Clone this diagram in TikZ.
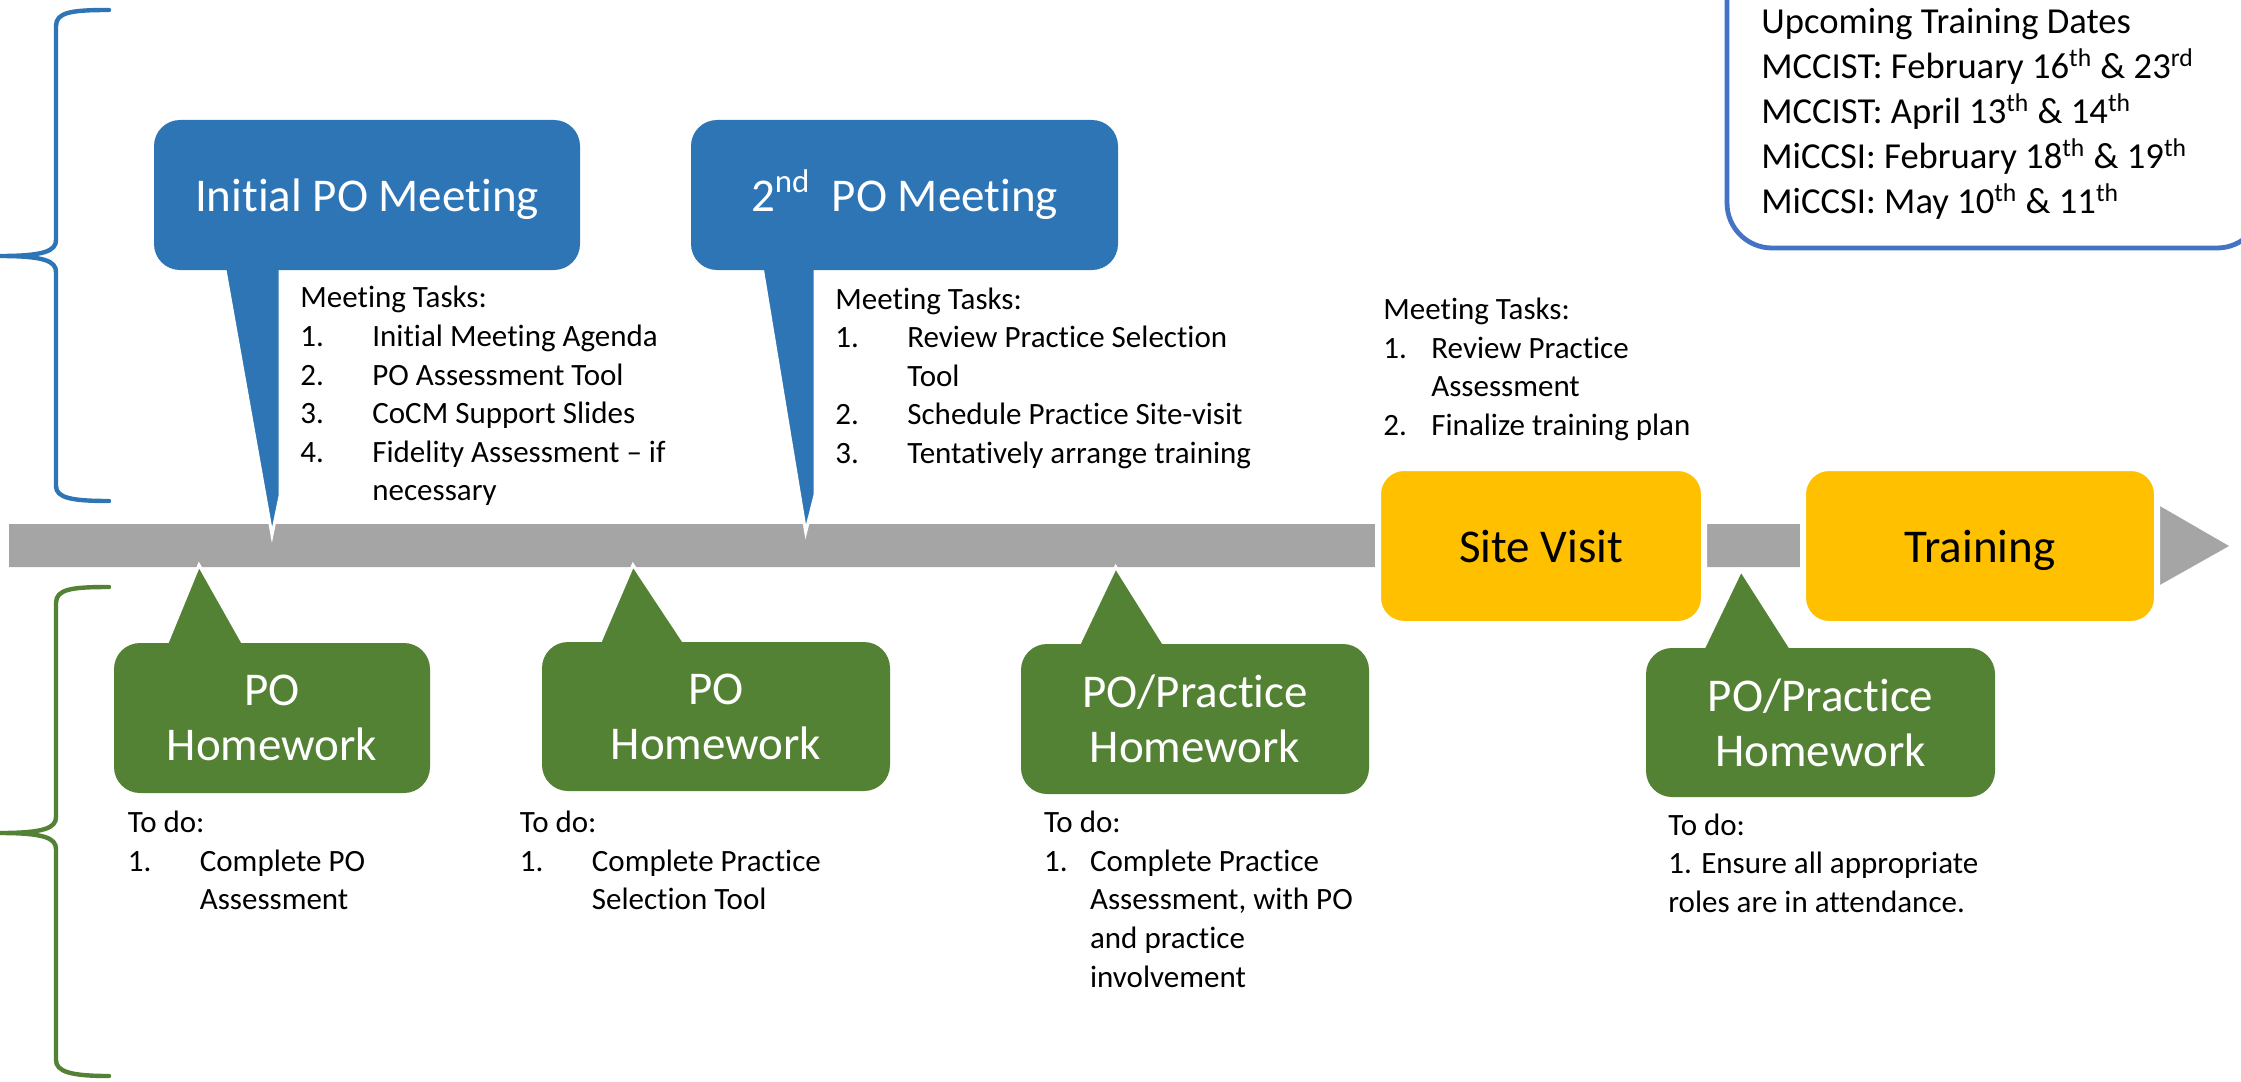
\documentclass[tikz,border=0pt]{standalone}
\usepackage{fontspec}
\setmainfont{Carlito}[Ligatures={TeX,NoCommon}]
\definecolor{pblue}{HTML}{2E75B6}
\definecolor{pgreen}{HTML}{548235}
\definecolor{pyellow}{HTML}{FFC000}
\definecolor{pgray}{HTML}{A5A5A5}
\definecolor{pframe}{HTML}{4472C4}
\newcommand{\toplines}[1]{\begin{tabular}[t]{@{}l@{}}#1\end{tabular}}
\begin{document}
\begin{tikzpicture}[x=0.5pt,y=-0.5pt,
  bigtxt/.style={font=\fontsize{23.5}{27.5}\selectfont},
  smalltxt/.style={font=\fontsize{15.5}{19.3}\selectfont, inner sep=0pt, anchor=base west},
  datestxt/.style={font=\fontsize{18.3}{22.5}\selectfont, inner sep=0pt, anchor=base west},
  callbox/.style={rounded corners=13pt, inner sep=0pt, align=center, bigtxt},
  oneline/.style={text height=16.5pt, text depth=0.5pt},
  bluebox/.style={callbox, oneline, fill=pblue, text=white},
  greenbox/.style={callbox, fill=pgreen, text=white},
  yellowbox/.style={callbox, oneline, fill=pyellow, text=black, draw=white, line width=3pt},
  tail/.style={draw=white, line width=1.5pt, miter limit=25},
  bracepath/.style={line width=2.2pt, line cap=round},
]
\useasboundingbox (0,0) rectangle (2241,1081);

% braces
\draw[bracepath, pblue] (109,10) .. controls (72,10) and (56,12) .. (56,26) -- (56,240)
  .. controls (56,251) and (44,256) .. (0,256)
  .. controls (44,256) and (56,261) .. (56,272) -- (56,486)
  .. controls (56,498) and (72,501) .. (109,501);
\draw[bracepath, pgreen] (109,587) .. controls (72,587) and (56,589) .. (56,603) -- (56,817)
  .. controls (56,828) and (44,833) .. (0,833)
  .. controls (44,833) and (56,838) .. (56,849) -- (56,1060)
  .. controls (56,1072) and (72,1076) .. (109,1076);

% timeline bar with arrow head
\coordinate (barstart) at (9,545.5);
\coordinate (barend) at (2229,546);
\fill[pgray] (9,524) -- (2158,524) -- (2158,505) -- (barend) -- (2158,586) -- (2158,567) -- (9,567) -- cycle;

% callout tails
\coordinate (tipA) at (272,535);
\coordinate (tipB) at (805.7,532);
\coordinate (tipC) at (199,565);
\coordinate (tipD) at (633,565);
\coordinate (tipE) at (1115.7,567);
\coordinate (tipF) at (1741,570);
\filldraw[tail, fill=pblue] (223.6,262) -- (280,262) -- (280,496) -- (tipA) -- cycle;
\filldraw[tail, fill=pblue] (761.2,262) -- (815,262) -- (815,495) -- (tipB) -- cycle;
\filldraw[tail, fill=pgreen] (163.7,651) -- (tipC) -- (247.5,651) -- cycle;
\filldraw[tail, fill=pgreen] (596.6,650) -- (tipD) -- (689.3,650) -- cycle;
\filldraw[tail, fill=pgreen] (1075.2,652) -- (tipE) -- (1169,652) -- cycle;
\filldraw[tail, fill=pgreen] (1700.2,655) -- (tipF) -- (1795.1,655) -- cycle;

% callout boxes
\node[bluebox, minimum width=213pt, minimum height=75pt] (m1) at (367,195) {Initial PO Meeting};
\node[bluebox, minimum width=213.5pt, minimum height=75pt] (m2) at (904.5,195) {2\textsuperscript{nd}\ \ PO Meeting};
\node[greenbox, minimum width=158pt, minimum height=75pt] (h1) at (272,718) {PO\\Homework};
\node[greenbox, minimum width=174pt, minimum height=74.5pt] (h2) at (716,716.5) {PO\\Homework};
\node[greenbox, minimum width=174pt, minimum height=75pt] (h3) at (1195,719) {PO/Practice\\Homework};
\node[greenbox, minimum width=174.5pt, minimum height=74.5pt] (h4) at (1820.5,722.5) {PO/Practice\\Homework};

% milestone boxes on the bar
\node[yellowbox, minimum width=163pt, minimum height=78pt] (sv) at (1541,546) {Site Visit};
\node[yellowbox, minimum width=177pt, minimum height=78pt] (tr) at (1980,546) {Training};

% task lists
\node[smalltxt] (t1) at (300,307.9) {\toplines{Meeting Tasks:\\
\makebox[36pt][l]{1.}Initial Meeting Agenda\\
\makebox[36pt][l]{2.}PO Assessment Tool\\
\makebox[36pt][l]{3.}CoCM Support Slides\\
\makebox[36pt][l]{4.}Fidelity Assessment \textendash{} if\\
\hspace*{36pt}necessary}};
\node[smalltxt] (t2) at (835,309) {\toplines{Meeting Tasks:\\
\makebox[36pt][l]{1.}Review Practice Selection\\
\hspace*{36pt}Tool\\
\makebox[36pt][l]{2.}Schedule Practice Site-visit\\
\makebox[36pt][l]{3.}Tentatively arrange training}};
\node[smalltxt] (t3) at (1383,319.5) {\toplines{Meeting Tasks:\\
\makebox[24pt][l]{1.}Review Practice\\
\hspace*{24pt}Assessment\\
\makebox[24pt][l]{2.}Finalize training plan}};

\node[smalltxt] (d1) at (127.5,832.6) {\toplines{To do:\\
\makebox[36pt][l]{1.}Complete PO\\
\hspace*{36pt}Assessment}};
\node[smalltxt] (d2) at (519.5,832.6) {\toplines{To do:\\
\makebox[36pt][l]{1.}Complete Practice\\
\hspace*{36pt}Selection Tool}};
\node[smalltxt] (d3) at (1043.7,832.6) {\toplines{To do:\\
\makebox[23pt][l]{1.}Complete Practice\\
\hspace*{23pt}Assessment, with PO\\
\hspace*{23pt}and practice\\
\hspace*{23pt}involvement}};
\node[smalltxt] (d4) at (1668,835) {\toplines{To do:\\
1. Ensure all appropriate\\
roles are in attendance.}};

% upcoming dates box
\draw[pframe, line width=2.4pt, rounded corners=22.5pt] (1727,-80) rectangle (2262,248);
\node[datestxt] (dates) at (1761,33.6) {\toplines{Upcoming Training Dates\\
MCCIST: February 16\textsuperscript{th} \& 23\textsuperscript{rd}\\
MCCIST: April 13\textsuperscript{th} \& 14\textsuperscript{th}\\
MiCCSI: February 18\textsuperscript{th} \& 19\textsuperscript{th}\\
MiCCSI: May 10\textsuperscript{th} \& 11\textsuperscript{th}}};
\end{tikzpicture}
\end{document}
